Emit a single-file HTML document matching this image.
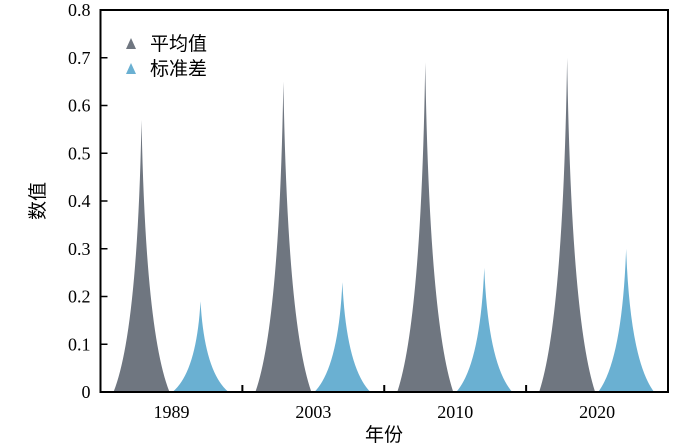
<!DOCTYPE html>
<html><head><meta charset="utf-8"><style>
body{margin:0;background:#fff}
svg{display:block}
text{font-family:"Liberation Serif","Noto Serif CJK SC",serif;fill:#000}
.cjk{font-family:"Liberation Sans","Noto Sans CJK SC",sans-serif}
</style></head><body>
<svg id="chart" width="700" height="446">
<g id="plot"></g>
</svg>
<script>
const categories = ["1989","2003","2010","2020"];
const meanValues = [0.57,0.65,0.69,0.70];
const stdValues = [0.19,0.23,0.26,0.30];
const yTicks = [0,0.1,0.2,0.3,0.4,0.5,0.6,0.7,0.8];

const L=100.5,R=668,T=10,B=392;
const y=v=>B-(v/0.8)*(B-T);
const gw=(R-L)/categories.length;
const gx=i=>L+i*gw;
const NS="http://www.w3.org/2000/svg";
const svg=document.getElementById('plot');
function mk(tag,attrs){const e=document.createElementNS(NS,tag);for(const k in attrs)e.setAttribute(k,attrs[k]);svg.appendChild(e);return e;}
function spike(cx,v,color,name){
  const hw=28,top=y(v),h=B-top;
  const d=`M${cx-hw},${B} Q${cx-4},${B-h*0.22} ${cx},${top} Q${cx+4},${B-h*0.22} ${cx+hw},${B} Z`;
  const p=mk('path',{d:d,fill:color});
  
  
}
categories.forEach((c,i)=>{
  spike(gx(i)+41,meanValues[i],'#6f7680','mean-spike-'+c);
  spike(gx(i)+100,stdValues[i],'#6ab0d2','std-spike-'+c);
  const t=mk('text',{x:gx(i)+gw/2,y:418,'text-anchor':'middle','font-size':18});
  t.textContent=c;
  
  
  if(i>0){const tk=mk('line',{x1:gx(i),x2:gx(i),y1:B,y2:B-7,stroke:'#000','stroke-width':2});
    
    }
});
yTicks.forEach(v=>{
  const tk=mk('line',{x1:L,x2:L+7,y1:y(v),y2:y(v),stroke:'#000','stroke-width':1.5});
  
  
  const t=mk('text',{x:L-10,y:y(v)+6,'text-anchor':'end','font-size':18});
  t.textContent=String(v);
  
  
});
const frame=mk('rect',{x:L,y:T,width:R-L,height:B-T,fill:'none',stroke:'#000','stroke-width':2});


</script>
<svg width="0" height="0"></svg>
<div style="position:absolute;left:0;top:0;width:700px;height:446px;pointer-events:none">
<svg width="700" height="446">
<g>
<g>
<polygon points="126,49 131,38 136,49" fill="#6f7680"/>
<text class="cjk" x="150" y="50" font-size="19">平均值</text></g>
<g>
<polygon points="126,74 131,63 136,74" fill="#6ab0d2"/>
<text class="cjk" x="150" y="75" font-size="19">标准差</text></g>
</g>
<text class="cjk" x="384" y="441" text-anchor="middle" font-size="19">年份</text>
<text class="cjk" transform="translate(44,201) rotate(-90)" text-anchor="middle" font-size="19">数值</text>
</svg></div>
</body></html>
